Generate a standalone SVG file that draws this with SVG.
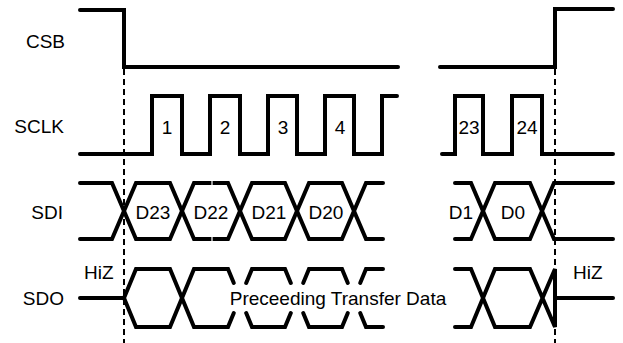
<svg xmlns="http://www.w3.org/2000/svg" width="623" height="343" viewBox="0 0 623 343">
<style>
.w{fill:none;stroke:#000;stroke-width:4;stroke-linejoin:miter;stroke-linecap:round}
.d{fill:none;stroke:#000;stroke-width:2;stroke-dasharray:6 4}
.t{font-family:"Liberation Sans",Arial,sans-serif;font-size:19px;fill:#000}
.e{text-anchor:end}
.m{text-anchor:middle}
</style>
<rect width="623" height="343" fill="#fff"/>
<g id="labels">
<text class="t e" x="65" y="48">CSB</text>
<text class="t e" x="64" y="133">SCLK</text>
<text class="t e" x="63" y="219">SDI</text>
<text class="t e" x="64" y="305">SDO</text>
</g>
<g id="connectors">
<path class="d" d="M124,69 V343"/>
<path class="d" d="M555,69 V343"/>
</g>
<g id="csb">
<path class="w" d="M80,10 H124 V67 H398"/>
<path class="w" d="M440,67 H555 V9 H613"/>
</g>
<g id="sclk">
<path class="w" d="M80,154 H152 V96 H182 V154 H210 V96 H240 V154 H268 V96 H297 V154 H325 V96 H354 V154 H382 V96 H397"/>
<path class="w" d="M442,154 H455 V96 H483 V154 H512 V96 H542 V154 H613"/>
<g class="t m">
<text x="167" y="134">1</text>
<text x="225" y="134">2</text>
<text x="283" y="134">3</text>
<text x="340" y="134">4</text>
<text x="469" y="134">23</text>
<text x="527" y="134">24</text>
</g>
</g>
<g id="sdi">
<path class="w" d="M80,183 H112 L136,239 H170 L194,183 H228 L252,239 H285 L309,183 H342 L366,239 H383"/>
<path class="w" d="M80,239 H112 L136,183 H170 L194,239 H228 L252,183 H285 L309,239 H342 L366,183 H383"/>
<path d="M212,180 V186 M212,236 V242" stroke="#fff" stroke-width="1.2"/>
<path class="w" d="M455,183 H471 L495,239 H530 L554,183 H613"/>
<path class="w" d="M455,239 H471 L495,183 H530 L554,239 H613"/>
<g class="t m">
<text x="153" y="219">D23</text>
<text x="211" y="219">D22</text>
<text x="269" y="219">D21</text>
<text x="326" y="219">D20</text>
<text x="461" y="219">D1</text>
<text x="513" y="219">D0</text>
</g>
</g>
<g id="sdo">
<path class="w" d="M80,298 H124 L136,269 H170 L194,327 H228 L233.8,313"/>
<path class="w" d="M124,298 L136,327 H170 L194,269 H228 L233.8,283"/>
<path class="w" d="M246.2,283 L252,269 H285 L290.8,283 M246.2,313 L252,327 H285 L290.8,313"/>
<path class="w" d="M303.2,283 L309,269 H342 L347.8,283 M303.2,313 L309,327 H342 L347.8,313"/>
<path class="w" d="M360.2,283 L366,269 H383 M360.2,313 L366,327 H383"/>
<path class="w" d="M455,269 H471 L495,327 H530 L555,269 V327 L530,269 H495 L471,327 H455"/>
<path class="w" d="M555,298 H613"/>
<text class="t" x="84" y="279">HiZ</text>
<text class="t" x="573" y="279">HiZ</text>
<text class="t m" x="338" y="305">Preceeding Transfer Data</text>
</g>
</svg>
